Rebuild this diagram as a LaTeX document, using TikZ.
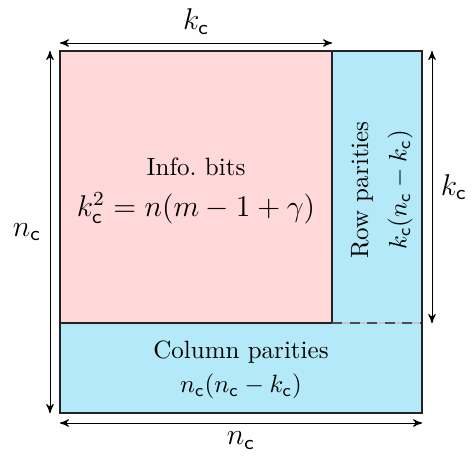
\documentclass[tikz,border=0pt]{standalone}
\usepackage{amsmath}
\usepackage{tikz}
\usetikzlibrary{positioning,arrows,calc}
\definecolor{ink}     {HTML}{222222}
\definecolor{infofill}{HTML}{FFD9DA}
\definecolor{parfill} {HTML}{B3E9F8}
\newcommand{\sfc}{\mathsf{c}}
\tikzset{
  >=stealth',
  % --- blocks
  blk/.style    = {draw=ink, line width=0.5pt},
  info/.style   = {blk, fill=infofill},
  par/.style    = {blk, fill=parfill},
  txt/.style    = {font=\normalsize, align=center, inner sep=0pt},
  % --- dimension arrows
  dim/.style    = {<->, draw=black, line width=0.4pt},
  dimlbl/.style = {font=\large},
}

\begin{document}
\begin{tikzpicture}[x=0.4pt,y=0.4pt]
  \useasboundingbox (0,0) rectangle (472,456);

  % corners of the code array
  \coordinate (sw) at (60,43);
  \coordinate (ne) at (422,405);
  \coordinate (nw) at (60,405);
  \coordinate (se) at (422,43);
  \coordinate (kx) at (332,405);
  \coordinate (ky) at (332,133);
  \coordinate (ey) at (422,133);
  \coordinate (wy) at (60,133);

  % blocks
  \draw[par]  (sw) rectangle (ey);
  \draw[par]  (ky) rectangle (ne);
  \draw[info] (wy) rectangle (kx);
  \draw[gray!45, line width=0.6pt] (ky) -- (ey);
  \draw[ink!80, line width=0.6pt, dash pattern=on 4pt off 3pt] (ky) -- (ey);
  \draw[blk] (sw) rectangle (ne);

  % block texts
  \node[txt] (infotxt) at (196,289) {Info.\ bits};
  \node[txt, font=\large] (infoeq) at (196,248)
    {$k_\sfc^2 = n(m-1+\gamma)$};
  \node[txt, rotate=90] (rowtxt) at (362,266) {Row parities};
  \node[txt, rotate=90] (roweq) at (400,266) {$k_\sfc(n_\sfc-k_\sfc)$};
  \node[txt] (coltxt) at (241,104) {Column parities};
  \node[txt] (coleq) at (241,70) {$n_\sfc(n_\sfc-k_\sfc)$};

  % dimension arrows
  \coordinate (t1) at (60,413);  \coordinate (t2) at (332,413);
  \coordinate (l1) at (50,405);  \coordinate (l2) at (50,43);
  \coordinate (r1) at (432,405); \coordinate (r2) at (432,133);
  \coordinate (b1) at (60,33);   \coordinate (b2) at (422,33);
  \draw[dim] (t1) -- node[above, dimlbl] (ktop) {$k_\sfc$} (t2);
  \draw[dim] (l1) -- node[left, dimlbl] (nleft) {$n_\sfc$} (l2);
  \draw[dim] (r1) -- node[right, dimlbl] (kright) {$k_\sfc$} (r2);
  \draw[dim] (b1) -- node[below, dimlbl] (nbot) {$n_\sfc$} (b2);
\end{tikzpicture}
\end{document}
